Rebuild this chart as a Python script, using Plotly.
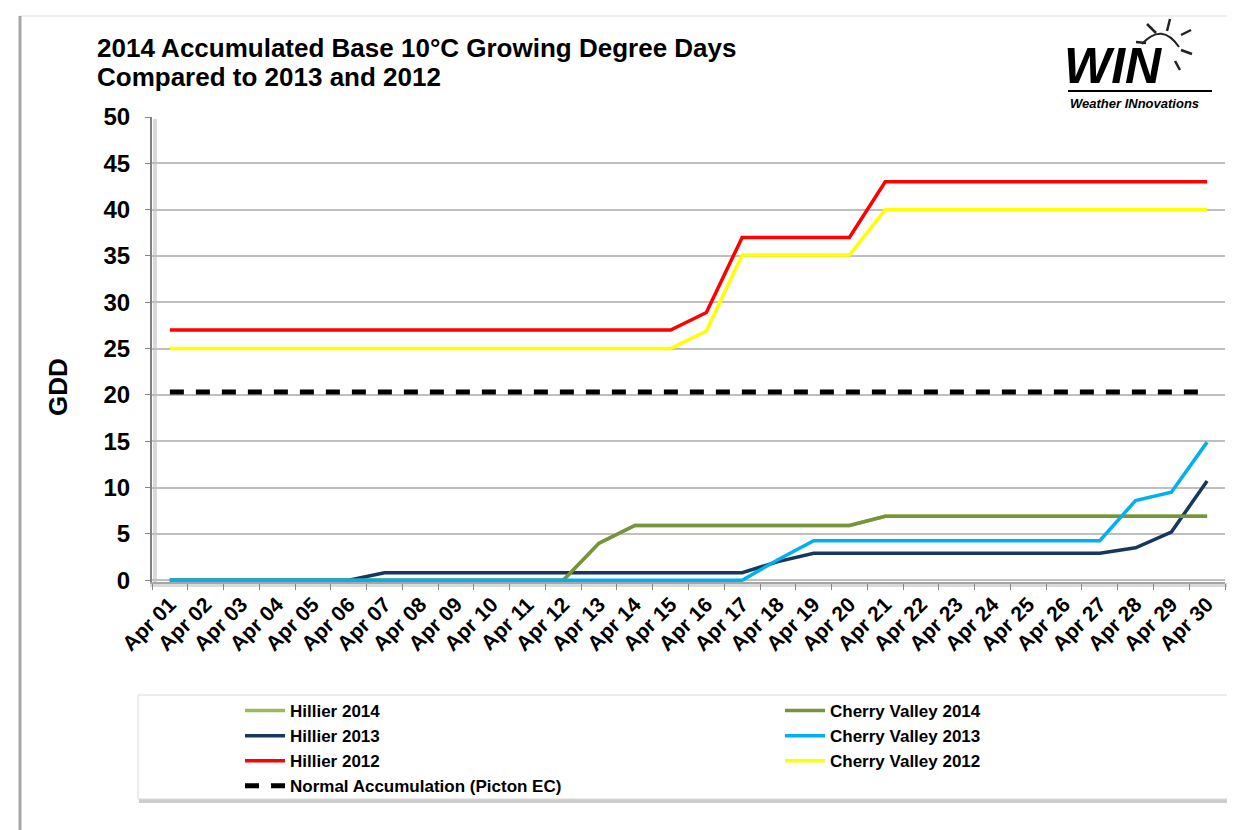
import plotly.graph_objects as go

# ---------------- data ----------------
days = ["Apr 01", "Apr 02", "Apr 03", "Apr 04", "Apr 05", "Apr 06", "Apr 07", "Apr 08",
        "Apr 09", "Apr 10", "Apr 11", "Apr 12", "Apr 13", "Apr 14", "Apr 15", "Apr 16",
        "Apr 17", "Apr 18", "Apr 19", "Apr 20", "Apr 21", "Apr 22", "Apr 23", "Apr 24",
        "Apr 25", "Apr 26", "Apr 27", "Apr 28", "Apr 29", "Apr 30"]

hillier_2014 = [0, 0, 0, 0, 0, 0, 0, 0, 0, 0, 0, 0, 4.0, 5.9, 5.9, 5.9, 5.9, 5.9, 5.9, 5.9,
                6.9, 6.9, 6.9, 6.9, 6.9, 6.9, 6.9, 6.9, 6.9, 6.9]
cherry_2014 = [0, 0, 0, 0, 0, 0, 0, 0, 0, 0, 0, 0, 4.0, 5.9, 5.9, 5.9, 5.9, 5.9, 5.9, 5.9,
               6.9, 6.9, 6.9, 6.9, 6.9, 6.9, 6.9, 6.9, 6.9, 6.9]
hillier_2013 = [0, 0, 0, 0, 0, 0, 0.8, 0.8, 0.8, 0.8, 0.8, 0.8, 0.8, 0.8, 0.8, 0.8, 0.8,
                2.0, 2.9, 2.9, 2.9, 2.9, 2.9, 2.9, 2.9, 2.9, 2.9, 3.5, 5.2, 10.7]
cherry_2013 = [0, 0, 0, 0, 0, 0, 0, 0, 0, 0, 0, 0, 0, 0, 0, 0, 0,
               2.2, 4.25, 4.25, 4.25, 4.25, 4.25, 4.25, 4.25, 4.25, 4.25, 8.6, 9.5, 14.9]
hillier_2012 = [27, 27, 27, 27, 27, 27, 27, 27, 27, 27, 27, 27, 27, 27, 27, 28.9,
                37, 37, 37, 37, 43, 43, 43, 43, 43, 43, 43, 43, 43, 43]
cherry_2012 = [25, 25, 25, 25, 25, 25, 25, 25, 25, 25, 25, 25, 25, 25, 25, 26.9,
               35.1, 35.1, 35.1, 35.1, 40, 40, 40, 40, 40, 40, 40, 40, 40, 40]
normal_accum = [20.3] * 30

y_ticks = [0, 5, 10, 15, 20, 25, 30, 35, 40, 45, 50]

title_lines = ["2014 Accumulated Base 10°C Growing Degree Days",
               "Compared to 2013 and 2012"]

# ---------------- layout helpers ----------------
# The page body adds an 8px margin, so the figure is drawn 8px smaller and all
# reference-pixel positions below are shifted by that offset.
OFF = 8
W, H = 1235 - OFF, 830 - OFF
L, R, T, B = 152 - OFF, 1225 - OFF, 117 - OFF, 582 - OFF


def px(x):
    return (x - OFF - L) / (R - L)


def py(y):
    return (B - (y - OFF)) / (B - T)


def cx(x):
    return (x - OFF) / W


def cy(y):
    return 1 - (y - OFF) / H


FONT = "Liberation Sans, Arial, sans-serif"

fig = go.Figure()

series = [
    ("Hillier 2014", hillier_2014, "#9BBB59", "solid", "legend"),
    ("Hillier 2013", hillier_2013, "#17375E", "solid", "legend"),
    ("Hillier 2012", hillier_2012, "#FF0000", "solid", "legend"),
    ("Normal Accumulation (Picton EC)", normal_accum, "#000000", "dash", "legend"),
    ("Cherry Valley 2014", cherry_2014, "#77933C", "solid", "legend2"),
    ("Cherry Valley 2013", cherry_2013, "#00B0F0", "solid", "legend2"),
    ("Cherry Valley 2012", cherry_2012, "#FFFF00", "solid", "legend2"),
]

for name, vals, col, dash, leg in series:
    fig.add_trace(go.Scatter(
        x=days, y=vals, name=name, mode="lines",
        line=dict(color=col, width=5 if dash == "dash" else 3.5,
                  dash="14px,12px" if dash == "dash" else "solid"),
        legend=leg, hoverinfo="skip",
    ))

legend_common = dict(
    font=dict(family=FONT, size=17, color="#000000", weight="bold"),
    bgcolor="rgba(0,0,0,0)", borderwidth=0,
    xref="container", yref="container", xanchor="left", yanchor="top",
    orientation="v", tracegroupgap=0, itemwidth=40,
)

shapes = []
# legend box with shadow
shapes.append(dict(type="rect", xref="paper", yref="paper",
                   x0=px(139), x1=px(1233), y0=py(698), y1=py(803),
                   line=dict(width=0), fillcolor="rgba(0,0,0,0.2)", layer="below"))
shapes.append(dict(type="rect", xref="paper", yref="paper",
                   x0=px(138), x1=px(1230), y0=py(695), y1=py(799),
                   line=dict(width=1, color="#D9D9D9"), fillcolor="#FFFFFF", layer="below"))
# outer frame shadow on the left / top
shapes.append(dict(type="line", xref="paper", yref="paper",
                   x0=px(20), x1=px(20), y0=py(16), y1=py(830),
                   line=dict(color="rgba(0,0,0,0.35)", width=3)))
shapes.append(dict(type="line", xref="paper", yref="paper",
                   x0=px(20), x1=px(1235), y0=py(16), y1=py(16),
                   line=dict(color="rgba(0,0,0,0.06)", width=2)))
# axis shadows
shapes.append(dict(type="line", xref="paper", yref="paper",
                   x0=px(150), x1=px(1228), y0=py(585), y1=py(585),
                   line=dict(color="rgba(0,0,0,0.15)", width=4), layer="below"))
shapes.append(dict(type="line", xref="paper", yref="paper",
                   x0=px(155), x1=px(155), y0=py(119), y1=py(583),
                   line=dict(color="rgba(0,0,0,0.15)", width=4), layer="below"))

# logo: sun arc + rays + underline
shapes.append(dict(type="path", xref="paper", yref="paper",
                   path="M {},{} Q {},{} {},{}".format(px(1142), py(44), px(1162), py(22),
                                                      px(1179), py(47)),
                   line=dict(color="#222222", width=2)))
rays = [((1147, 24), (1156, 33)), ((1170, 19), (1167, 31)), ((1181, 35), (1191, 30)),
        ((1181, 50), (1192, 54)), ((1175, 61), (1180, 70)), ((1136, 42), (1146, 43))]
for (a, b) in rays:
    shapes.append(dict(type="line", xref="paper", yref="paper",
                       x0=px(a[0]), y0=py(a[1]), x1=px(b[0]), y1=py(b[1]),
                       line=dict(color="#222222", width=2.5)))
shapes.append(dict(type="line", xref="paper", yref="paper",
                   x0=px(1068), x1=px(1212), y0=py(91), y1=py(91),
                   line=dict(color="#000000", width=2)))

annotations = [
    dict(text="<b>" + title_lines[0] + "</b>", xref="paper", yref="paper",
         x=px(95), y=py(48), xanchor="left", yanchor="middle", showarrow=False,
         font=dict(family=FONT, size=26, color="#000000")),
    dict(text="<b>" + title_lines[1] + "</b>", xref="paper", yref="paper",
         x=px(95), y=py(77), xanchor="left", yanchor="middle", showarrow=False,
         font=dict(family=FONT, size=26, color="#000000")),
    dict(text="<b>GDD</b>", xref="paper", yref="paper", x=px(58), y=py(387),
         xanchor="center", yanchor="middle", textangle=-90, showarrow=False,
         font=dict(family=FONT, size=26, color="#000000")),
    dict(text="<b><i>WIN</i></b>", xref="paper", yref="paper", x=px(1062), y=py(66),
         xanchor="left", yanchor="middle", showarrow=False,
         font=dict(family=FONT, size=50, color="#000000")),
    dict(text="<b><i>Weather INnovations</i></b>", xref="paper", yref="paper",
         x=px(1068), y=py(104), xanchor="left", yanchor="middle", showarrow=False,
         font=dict(family=FONT, size=13, color="#000000")),
]

fig.update_layout(
    width=W, height=H,
    margin=dict(l=L, r=W - R, t=T, b=H - B, autoexpand=False),
    paper_bgcolor="#FFFFFF", plot_bgcolor="#FFFFFF",
    xaxis=dict(type="category", categoryorder="array", categoryarray=days,
               range=[-0.5, 29.5], tickangle=-45, tickson="boundaries",
               ticks="outside", ticklen=6, tickcolor="#868686", tickwidth=1,
               showline=True, linecolor="#A6A6A6", linewidth=2, showgrid=False,
               tickfont=dict(family=FONT, size=21, color="#000000", weight="bold"),
               fixedrange=True),
    yaxis=dict(range=[-0.2, 50], tickvals=y_ticks, ticktext=[str(v) for v in y_ticks],
               ticks="outside", ticklen=5, tickcolor="#868686", ticklabelstandoff=10,
               showline=True, linecolor="#808080", linewidth=2,
               showgrid=True, gridcolor="#BFBFBF", gridwidth=1.5, zeroline=False,
               tickfont=dict(family=FONT, size=24, color="#000000", weight="bold"),
               fixedrange=True),
    legend=dict(x=cx(240), y=cy(693), **legend_common),
    legend2=dict(x=cx(780), y=cy(693), **legend_common),
    shapes=shapes,
    annotations=annotations,
    showlegend=True,
)

fig.write_html("out.html")
